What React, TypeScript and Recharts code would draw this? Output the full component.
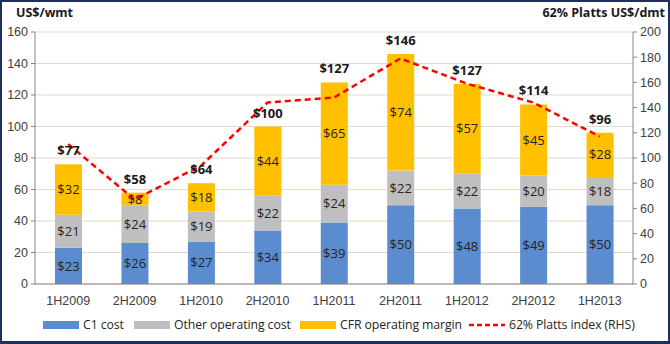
import {
  ComposedChart,
  Bar,
  Line,
  XAxis,
  YAxis,
  CartesianGrid,
  LabelList,
} from "recharts";

const periods = [
  "1H2009",
  "2H2009",
  "1H2010",
  "2H2010",
  "1H2011",
  "2H2011",
  "1H2012",
  "2H2012",
  "1H2013",
];
const c1Cost = [23, 26, 27, 34, 39, 50, 48, 49, 50];
const otherCost = [21, 24, 19, 22, 24, 22, 22, 20, 18];
const cfrMargin = [32, 8, 18, 44, 65, 74, 57, 45, 28];
const totalLabels = [77, 58, 64, 100, 127, 146, 127, 114, 96];
const plattsIndex = [111, 67, 94, 144, 148, 179, 159, 144, 117];

const leftTicks = [0, 20, 40, 60, 80, 100, 120, 140, 160];
const rightTicks = [0, 20, 40, 60, 80, 100, 120, 140, 160, 180, 200];

const data = periods.map((p, i) => ({
  period: p,
  c1: c1Cost[i],
  other: otherCost[i],
  cfr: cfrMargin[i],
  total: totalLabels[i],
  platts: plattsIndex[i],
}));

const tickFont = { fontFamily: "Liberation Sans, Arial", fontSize: 12.5, fill: "#404040" };
const labelFont = "Open Sans, Noto Sans, sans-serif";

const money = (v: any) => `$${v}`;

function TotalLabel(props: any) {
  const { x, y, width, index } = props;
  return (
    <text
      x={x + width / 2}
      y={y - 9}
      textAnchor="middle"
      fontFamily={labelFont}
      fontSize={13}
      fontWeight={700}
      fill="#1a1a1a"
    >
      ${totalLabels[index]}
    </text>
  );
}

// legend entries, left edge of each swatch
const legendItems = [
  { label: "C1 cost", color: "#5B8CCF", dash: false, left: 43 },
  { label: "Other operating cost", color: "#BFBFBF", dash: false, left: 134 },
  { label: "CFR operating margin", color: "#FFC000", dash: false, left: 300 },
  { label: "62% Platts index (RHS)", color: "#FF0000", dash: true, left: 469 },
];

export default function App() {
  return (
    <div
      style={{
        position: "fixed",
        left: 0,
        top: 0,
        width: 670,
        height: 344,
        boxSizing: "border-box",
        border: "2px solid #1F2F5C",
        borderBottomWidth: 3,
        background: "#fff",
        overflow: "hidden",
      }}
    >
      <div style={{ position: "absolute", left: -2, top: -2 }}>
        <ComposedChart
          width={670}
          height={344}
          data={data}
          margin={{ top: 32, right: 5, bottom: 36, left: 5 }}
          barSize={27}
        >
          <CartesianGrid
            yAxisId="left"
            vertical={false}
            stroke="#E8D8C6"
            strokeWidth={1.2}
          />
          <XAxis
            dataKey="period"
            height={24}
            tick={tickFont}
            tickLine={false}
            axisLine={{ stroke: "#868686" }}
            tickMargin={6}
          />
          <YAxis
            yAxisId="left"
            width={30}
            domain={[0, 160]}
            ticks={leftTicks}
            tick={tickFont}
            axisLine={{ stroke: "#868686" }}
            tickLine={{ stroke: "#868686" }}
            tickSize={4}
            tickMargin={3}
          />
          <YAxis
            yAxisId="right"
            orientation="right"
            width={32}
            domain={[0, 200]}
            ticks={rightTicks}
            tick={tickFont}
            axisLine={{ stroke: "#868686" }}
            tickLine={{ stroke: "#868686" }}
            tickSize={4}
            tickMargin={3}
          />
          <Bar dataKey="c1" stackId="a" yAxisId="left" fill="#5B8CCF" isAnimationActive={false}>
            <LabelList
              dataKey="c1"
              position="center"
              formatter={money}
              style={{ fontFamily: labelFont, fontSize: 13, fill: "#262626" }}
            />
          </Bar>
          <Bar dataKey="other" stackId="a" yAxisId="left" fill="#BFBFBF" isAnimationActive={false}>
            <LabelList
              dataKey="other"
              position="center"
              formatter={money}
              style={{ fontFamily: labelFont, fontSize: 13, fill: "#262626" }}
            />
          </Bar>
          <Bar dataKey="cfr" stackId="a" yAxisId="left" fill="#FFC000" isAnimationActive={false}>
            <LabelList
              dataKey="cfr"
              position="center"
              formatter={money}
              style={{ fontFamily: labelFont, fontSize: 13, fill: "#262626" }}
            />
            <LabelList dataKey="total" content={<TotalLabel />} />
          </Bar>
          <Line
            yAxisId="right"
            dataKey="platts"
            type="linear"
            stroke="#FF0000"
            strokeWidth={2.5}
            strokeDasharray="6 4"
            dot={false}
            activeDot={false}
            isAnimationActive={false}
          />
          <text
            x={16}
            y={17}
            fontFamily={labelFont}
            fontSize={12.5}
            fontWeight={700}
            fill="#1a1a1a"
          >
            US$/wmt
          </text>
          <text
            x={665}
            y={17}
            textAnchor="end"
            fontFamily={labelFont}
            fontSize={12.5}
            fontWeight={700}
            fill="#1a1a1a"
          >
            62% Platts US$/dmt
          </text>
        </ComposedChart>
      </div>
      {legendItems.map((it) => (
        <div
          key={it.label}
          style={{
            position: "absolute",
            left: it.left - 2,
            top: 314,
            display: "flex",
            alignItems: "center",
            fontFamily: labelFont,
            fontSize: 12.3,
            letterSpacing: -0.1,
            color: "#262626",
            whiteSpace: "nowrap",
          }}
        >
          {it.dash ? (
            <svg width={36} height={8} style={{ marginRight: 4 }}>
              <line
                x1={0}
                y1={4}
                x2={36}
                y2={4}
                stroke={it.color}
                strokeWidth={2.5}
                strokeDasharray="5 3"
              />
            </svg>
          ) : (
            <div
              style={{
                width: 36,
                height: 8,
                background: it.color,
                marginRight: 4,
              }}
            />
          )}
          <span>{it.label}</span>
        </div>
      ))}
    </div>
  );
}
